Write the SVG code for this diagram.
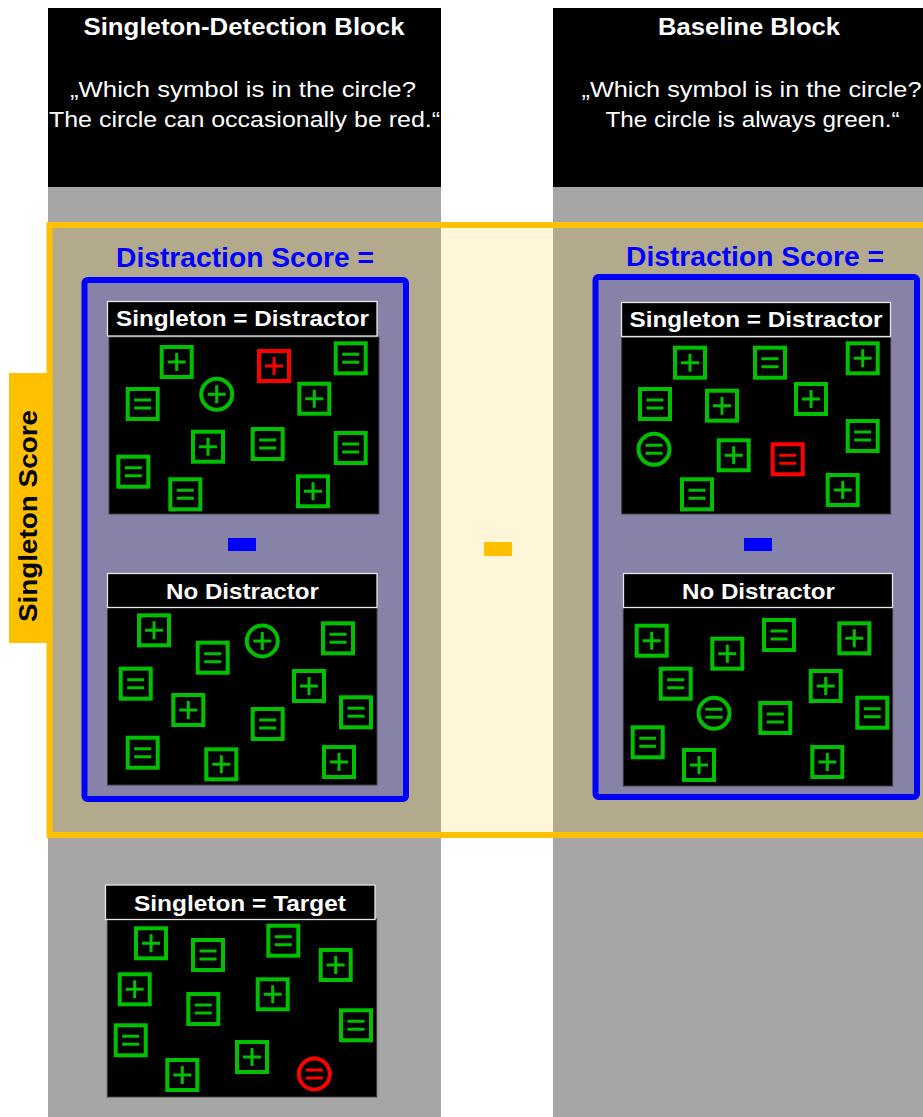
<svg xmlns="http://www.w3.org/2000/svg" xmlns:xlink="http://www.w3.org/1999/xlink" width="923" height="1117" viewBox="0 0 923 1117">
<style>
.hdr{font-family:"Liberation Sans",Arial,sans-serif;font-weight:bold;font-size:23px;fill:#fff;text-anchor:middle}
.instr{font-family:"Liberation Sans",Arial,sans-serif;font-size:22px;fill:#fff;text-anchor:middle}
.ds{font-family:"Liberation Sans",Arial,sans-serif;font-weight:bold;font-size:27px;fill:#0000FF;text-anchor:middle}
.lbl{font-family:"Liberation Sans",Arial,sans-serif;font-weight:bold;font-size:22px;fill:#fff;text-anchor:middle}
.ss{font-family:"Liberation Sans",Arial,sans-serif;font-weight:bold;font-size:25px;fill:#000;text-anchor:middle}
.lblbox{fill:#000;stroke:#E6E6E6;stroke-width:1.3}
.panel{fill:#000;stroke:#404040;stroke-width:1}
.bluebox{fill:#8782A8;stroke:#0000FF;stroke-width:6}
.g{fill:none;stroke:#00C000}
.r{fill:none;stroke:#FF0000}
</style>
<defs>
<g id="pb" class="g"><rect x="-15" y="-15" width="30" height="30" stroke-width="4"/><path d="M-9 0H9M0 -9V9" stroke-width="3"/></g>
<g id="eb" class="g"><rect x="-15" y="-15" width="30" height="30" stroke-width="4"/><path d="M-8.5 -4H8.5M-8.5 4H8.5" stroke-width="3"/></g>
<g id="pc" class="g"><circle r="15.5" stroke-width="4"/><path d="M-9 0H9M0 -9V9" stroke-width="3"/></g>
<g id="ec" class="g"><circle r="15.5" stroke-width="4"/><path d="M-8.5 -4H8.5M-8.5 4H8.5" stroke-width="3"/></g>
<g id="pbr" class="r"><rect x="-15" y="-15" width="30" height="30" stroke-width="4"/><path d="M-9 0H9M0 -9V9" stroke-width="3"/></g>
<g id="ebr" class="r"><rect x="-15" y="-15" width="30" height="30" stroke-width="4"/><path d="M-8.5 -4H8.5M-8.5 4H8.5" stroke-width="3"/></g>
<g id="ecr" class="r"><circle r="15.5" stroke-width="4"/><path d="M-8.5 -4H8.5M-8.5 4H8.5" stroke-width="3"/></g>
</defs>
<rect width="923" height="1117" fill="#fff"/>
<g id="columns">
<rect x="48" y="180" width="393" height="937" fill="#A6A6A6"/>
<rect x="553" y="180" width="370" height="937" fill="#A6A6A6"/>
</g>
<g id="header-left">
<rect x="48" y="8" width="393" height="179" fill="#000"/>
<text class="hdr" x="244" y="35" textLength="321" lengthAdjust="spacingAndGlyphs">Singleton-Detection Block</text>
<text class="instr" x="243" y="97" textLength="346" lengthAdjust="spacingAndGlyphs">„Which symbol is in the circle?</text>
<text class="instr" x="244.5" y="127" textLength="391" lengthAdjust="spacingAndGlyphs">The circle can occasionally be red.“</text>
</g>
<g id="header-right">
<rect x="553" y="8" width="370" height="179" fill="#000"/>
<text class="hdr" x="749" y="35" textLength="182" lengthAdjust="spacingAndGlyphs">Baseline Block</text>
<text class="instr" x="751.5" y="97" textLength="340" lengthAdjust="spacingAndGlyphs">„Which symbol is in the circle?</text>
<text class="instr" x="752.5" y="127" textLength="294" lengthAdjust="spacingAndGlyphs">The circle is always green.“</text>
</g>
<g id="singleton-frame">
<rect x="49.5" y="225" width="900" height="610" fill="#FFC000" fill-opacity="0.15" stroke="#FFC000" stroke-width="6"/>
</g>
<g id="singleton-score-tab">
<rect x="9" y="373" width="40" height="270" fill="#FFC000"/>
<text class="ss" transform="translate(37,516) rotate(-90)" textLength="212" lengthAdjust="spacingAndGlyphs">Singleton Score</text>
</g>
<g id="distraction-left">
<text class="ds" x="245" y="267" textLength="258" lengthAdjust="spacingAndGlyphs">Distraction Score =</text>
<rect class="bluebox" x="84.5" y="280" width="321.5" height="519" rx="3"/>
</g>
<g id="distraction-right">
<text class="ds" x="755" y="266" textLength="258" lengthAdjust="spacingAndGlyphs">Distraction Score =</text>
<rect class="bluebox" x="595.5" y="277" width="321.5" height="520" rx="3"/>
</g>
<g id="left-singleton-distractor">
<rect class="panel" x="109" y="337" width="270" height="177"/>
<rect class="lblbox" x="107.5" y="301.5" width="269.5" height="34.5"/>
<text class="lbl" x="242.5" y="326" textLength="253" lengthAdjust="spacingAndGlyphs">Singleton = Distractor</text>
<use xlink:href="#pb" transform="translate(176.7,362)"/>
<use xlink:href="#pbr" transform="translate(274,366)"/>
<use xlink:href="#eb" transform="translate(350.7,358.3)"/>
<use xlink:href="#eb" transform="translate(142.7,404)"/>
<use xlink:href="#pc" transform="translate(216.7,394.3)"/>
<use xlink:href="#pb" transform="translate(314.3,398.7)"/>
<use xlink:href="#pb" transform="translate(208,446.7)"/>
<use xlink:href="#eb" transform="translate(267.7,444)"/>
<use xlink:href="#eb" transform="translate(350.7,448)"/>
<use xlink:href="#eb" transform="translate(133.3,471.7)"/>
<use xlink:href="#eb" transform="translate(185.3,494.3)"/>
<use xlink:href="#pb" transform="translate(313,491.3)"/>
</g>
<g id="left-no-distractor">
<rect class="panel" x="107.5" y="607" width="269.5" height="178"/>
<rect class="lblbox" x="107.5" y="573.5" width="269.5" height="34"/>
<text class="lbl" x="242.5" y="598.7" textLength="153" lengthAdjust="spacingAndGlyphs">No Distractor</text>
<use xlink:href="#pb" transform="translate(154,630.3)"/>
<use xlink:href="#pc" transform="translate(262.3,641)"/>
<use xlink:href="#eb" transform="translate(338,638.3)"/>
<use xlink:href="#eb" transform="translate(212.7,657.7)"/>
<use xlink:href="#eb" transform="translate(135.7,683.7)"/>
<use xlink:href="#pb" transform="translate(309,686)"/>
<use xlink:href="#pb" transform="translate(188.3,710)"/>
<use xlink:href="#eb" transform="translate(267.7,724)"/>
<use xlink:href="#eb" transform="translate(356,712.3)"/>
<use xlink:href="#eb" transform="translate(142.7,752.7)"/>
<use xlink:href="#pb" transform="translate(221.3,764.3)"/>
<use xlink:href="#pb" transform="translate(339,762)"/>
</g>
<g id="right-singleton-distractor">
<rect class="panel" x="621.7" y="337.5" width="269" height="176.5"/>
<rect class="lblbox" x="621.5" y="302.5" width="269" height="34"/>
<text class="lbl" x="756" y="326.7" textLength="253" lengthAdjust="spacingAndGlyphs">Singleton = Distractor</text>
<use xlink:href="#pb" transform="translate(690,362.7)"/>
<use xlink:href="#eb" transform="translate(770,362.7)"/>
<use xlink:href="#pb" transform="translate(862.7,358.3)"/>
<use xlink:href="#eb" transform="translate(655,404)"/>
<use xlink:href="#pb" transform="translate(722,405.7)"/>
<use xlink:href="#pb" transform="translate(811,399)"/>
<use xlink:href="#ec" transform="translate(654,449.3)"/>
<use xlink:href="#pb" transform="translate(733.7,455.3)"/>
<use xlink:href="#ebr" transform="translate(787.7,459.3)"/>
<use xlink:href="#eb" transform="translate(862.7,436)"/>
<use xlink:href="#eb" transform="translate(697,494.3)"/>
<use xlink:href="#pb" transform="translate(842.7,490)"/>
</g>
<g id="right-no-distractor">
<rect class="panel" x="623.3" y="607" width="269.4" height="179"/>
<rect class="lblbox" x="623.5" y="573.5" width="269" height="34"/>
<text class="lbl" x="758.5" y="598.7" textLength="153" lengthAdjust="spacingAndGlyphs">No Distractor</text>
<use xlink:href="#pb" transform="translate(651.7,640.7)"/>
<use xlink:href="#pb" transform="translate(727.3,653.7)"/>
<use xlink:href="#eb" transform="translate(779,635)"/>
<use xlink:href="#pb" transform="translate(854.3,638.3)"/>
<use xlink:href="#eb" transform="translate(675.7,683.7)"/>
<use xlink:href="#pb" transform="translate(825.7,686)"/>
<use xlink:href="#ec" transform="translate(714,713.3)"/>
<use xlink:href="#eb" transform="translate(775.3,718)"/>
<use xlink:href="#eb" transform="translate(872.3,712.7)"/>
<use xlink:href="#eb" transform="translate(647.7,742.3)"/>
<use xlink:href="#pb" transform="translate(699,765)"/>
<use xlink:href="#pb" transform="translate(827.3,762)"/>
</g>
<g id="singleton-target">
<rect class="panel" x="107.3" y="919" width="269.4" height="178"/>
<rect class="lblbox" x="105.5" y="885" width="269.5" height="34.5"/>
<text class="lbl" x="240" y="910.7" textLength="212" lengthAdjust="spacingAndGlyphs">Singleton = Target</text>
<use xlink:href="#pb" transform="translate(151,943.3)"/>
<use xlink:href="#eb" transform="translate(208,955)"/>
<use xlink:href="#eb" transform="translate(283.3,940.7)"/>
<use xlink:href="#pb" transform="translate(335.7,965)"/>
<use xlink:href="#pb" transform="translate(134.7,989.3)"/>
<use xlink:href="#pb" transform="translate(272.7,994.3)"/>
<use xlink:href="#eb" transform="translate(203.3,1009)"/>
<use xlink:href="#eb" transform="translate(356,1025.3)"/>
<use xlink:href="#eb" transform="translate(130.7,1040.3)"/>
<use xlink:href="#pb" transform="translate(252,1057)"/>
<use xlink:href="#pb" transform="translate(182.3,1075)"/>
<use xlink:href="#ecr" transform="translate(314.3,1074)"/>
</g>
<g id="operators">
<rect x="228" y="538" width="28" height="13" fill="#0000FF"/>
<rect x="744" y="538" width="28" height="13" fill="#0000FF"/>
<rect x="484" y="542" width="28" height="14" fill="#FFC000"/>
</g>
</svg>
